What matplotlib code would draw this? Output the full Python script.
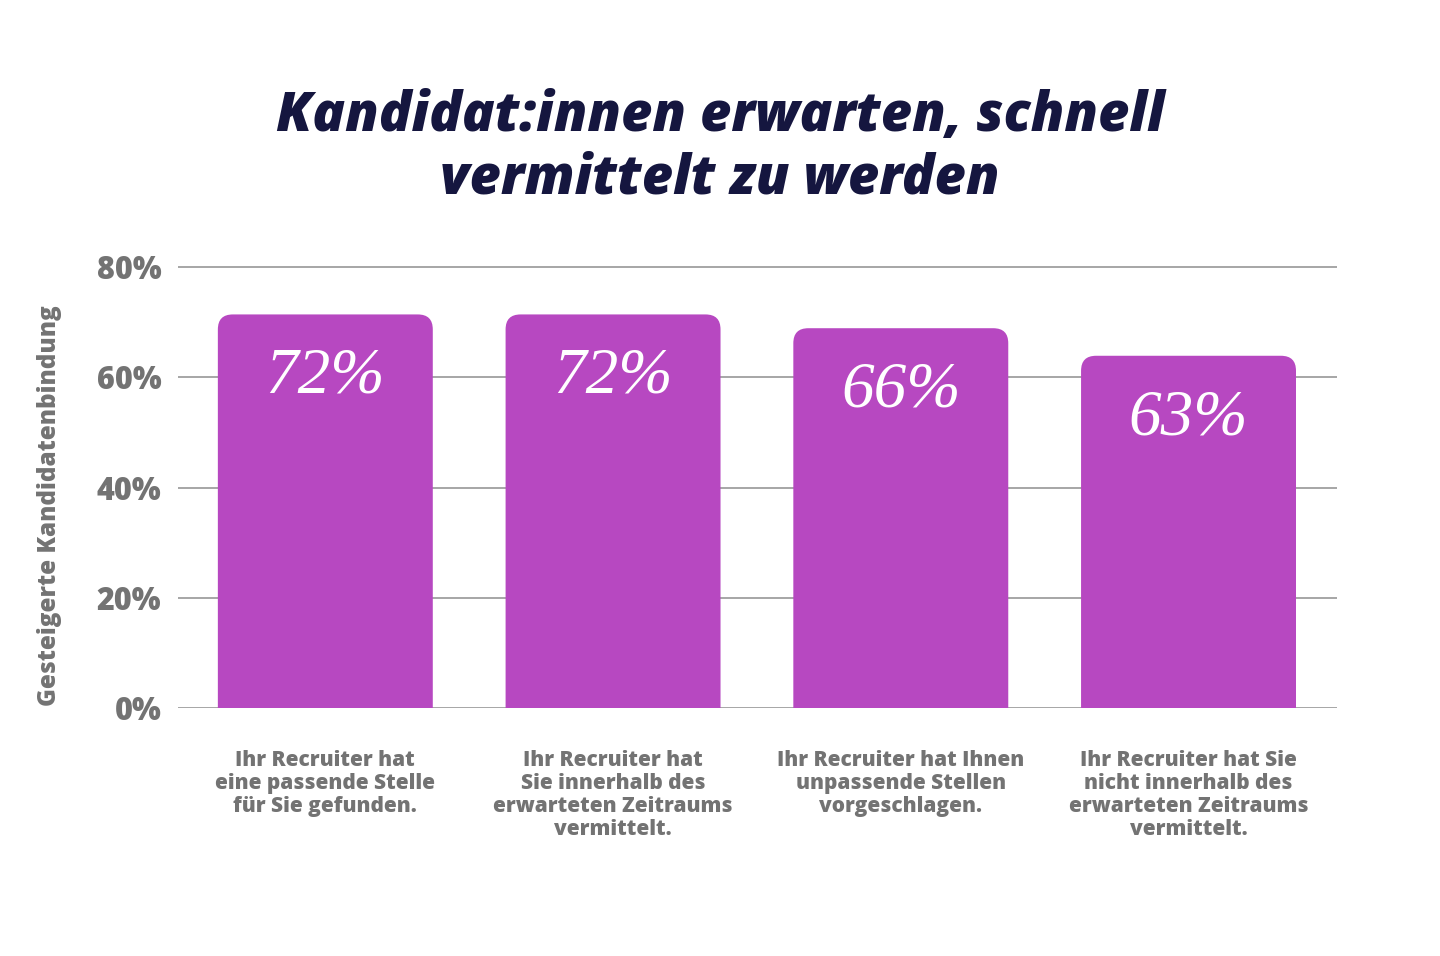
import matplotlib
matplotlib.use("Agg")
import matplotlib.pyplot as plt
from matplotlib.patches import FancyBboxPatch

# Data
categories = [
    "Ihr Recruiter hat\neine passende Stelle\nfür Sie gefunden.",
    "Ihr Recruiter hat\nSie innerhalb des\nerwarteten Zeitraums\nvermittelt.",
    "Ihr Recruiter hat Ihnen\nunpassende Stellen\nvorgeschlagen.",
    "Ihr Recruiter hat Sie\nnicht innerhalb des\nerwarteten Zeitraums\nvermittelt.",
]
bar_values = [71.4, 71.4, 68.9, 63.9]
value_labels = ["72%", "72%", "66%", "63%"]
y_ticks = [0, 20, 40, 60, 80]
y_tick_labels = ["0%", "20%", "40%", "60%", "80%"]

title = "Kandidat:innen erwarten, schnell\nvermittelt zu werden"
y_label = "Gesteigerte Kandidatenbindung"

BAR = "#B748C1"
NAVY = "#15163F"
GREY = "#737373"
GRID = "#A6A6A6"
SANS = "Open Sans"

fig = plt.figure(figsize=(14.4, 9.56), dpi=100)
ax = fig.add_axes([178/1440, 1 - 708/956, (1337-178)/1440, (708-256)/956])
ax.set_xlim(-0.512, 3.516)
ax.set_ylim(0, 82)

for sp in ax.spines.values():
    sp.set_visible(False)

for t in y_ticks:
    ax.axhline(t, color=GRID, lw=1.4, zorder=1)

width = 0.747
x = list(range(len(categories)))
bars = ax.bar(x, bar_values, width=width, color="none", zorder=0)
for b, v, lab in zip(bars, bar_values, value_labels):
    x0 = b.get_x()
    p = FancyBboxPatch((x0, -10), width, v + 10,
                       boxstyle="round,pad=0,rounding_size=0.052",
                       mutation_aspect=52.3, facecolor=BAR, edgecolor="none",
                       zorder=2)
    ax.add_patch(p)
    ax.annotate(lab, (x0 + width/2, v), xytext=(0, -45), textcoords="offset points",
                ha="center", va="center", color="white", fontsize=47,
                family="Liberation Serif", style="italic", zorder=3)

ax.set_yticks(y_ticks)
ax.set_yticklabels(y_tick_labels, fontsize=22, fontweight=800, color=GREY,
                   family=SANS)
ax.tick_params(axis="y", length=0, pad=12)
ax.set_xticks(x)
ax.set_xticklabels(categories, fontsize=15, fontweight=800, color=GREY,
                   family=SANS, linespacing=1.14, va="top")
ax.tick_params(axis="x", length=0, pad=30)

fig.text(50/1440, 1 - 506/956, y_label, rotation=90, ha="center", va="center",
         fontsize=17.5, fontweight=800, color=GREY, family=SANS)

fig.text(720/1440, 1 - 148/956, title, ha="center", va="center", fontsize=39,
         fontweight=800, style="italic", color=NAVY, family=SANS,
         linespacing=1.19)

fig.savefig("out.png", dpi=100, facecolor="white")
